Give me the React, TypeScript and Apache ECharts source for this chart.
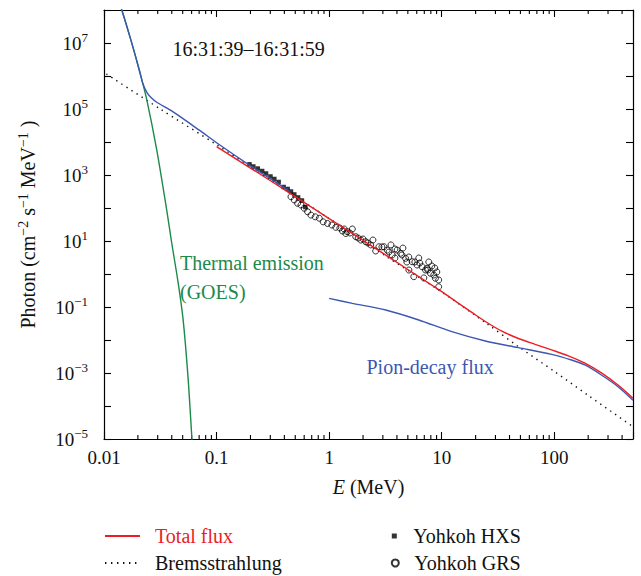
import React, { useEffect, useRef } from "react";
import * as echarts from "echarts";

const FONT = "Liberation Serif, DejaVu Serif, serif";

// Thermal emission (GOES)
const thermalE = [0.013, 0.0144, 0.0175, 0.0208, 0.024, 0.0294, 0.0361, 0.0397, 0.0455, 0.0503, 0.0557, 0.0604, 0.062];
const thermalF = [2.8e8, 1.0e8, 1.1e7, 1.3e6, 1.9e5, 5.8e3, 85, 10, 0.56, 0.045, 7.9e-4, 1.0e-5, 2.5e-6];

// Low-energy fit (thermal + bremsstrahlung), blue
const lowFitE = [0.013, 0.0144, 0.0175, 0.0208, 0.0221, 0.024, 0.0266, 0.0294, 0.0408, 0.0708, 0.1, 0.2, 0.45];
const lowFitF = [2.8e8, 1.0e8, 1.1e7, 1.35e6, 6.0e5, 3.2e5, 2.1e5, 1.6e5, 8.3e4, 2.24e4, 9.5e3, 1.9e3, 316];

// Bremsstrahlung (dotted)
const bremE = [0.0105, 0.0316, 0.1, 0.316, 1, 3.16, 10, 25.1, 48, 100, 200, 480];
const bremF = [1.15e6, 1.0e5, 8.3e3, 631, 47.9, 3.55, 0.285, 0.0316, 6.3e-3, 1.12e-3, 2.1e-4, 2.6e-5];

// Pion-decay flux
const pionE = [1, 1.61, 3.18, 6.25, 12.3, 24.4, 48, 94.6, 142, 187, 262, 368, 500];
const pionF = [0.183, 0.129, 0.081, 0.0404, 0.0179, 0.00933, 0.00585, 0.00368, 0.00248, 0.00175, 0.00087, 0.000385, 0.00015];

// Total flux
const totalE = [0.1, 0.316, 1, 3.16, 10, 14.1, 18.5, 24.4, 34.2, 48, 67.5, 94.6, 133, 187, 262, 368, 500];
const totalF = [7240, 603, 47.9, 3.8, 0.291, 0.129, 0.0684, 0.0364, 0.0185, 0.0111, 0.00738, 0.005, 0.00332, 0.002, 0.00101, 0.000432, 0.000173];

// Yohkoh HXS (filled squares)
const hxsE = [0.196, 0.212, 0.232, 0.254, 0.275, 0.301, 0.326, 0.356, 0.394, 0.428, 0.458, 0.49, 0.53, 0.573, 0.614];
const hxsF = [2110, 1810, 1570, 1320, 1110, 902, 757, 614, 433, 377, 316, 257, 209, 169, 107];

// Yohkoh GRS (open circles)
const grsE = [0.458, 0.49, 0.524, 0.562, 0.601, 0.643, 0.689, 0.752, 0.817, 0.885, 0.966, 1.057, 1.146, 1.245, 1.312, 1.36, 1.406, 1.452, 1.53, 1.607, 1.722, 1.81, 1.91, 2.0, 2.113, 2.21, 2.339, 2.449, 2.588, 2.767, 2.94, 3.069, 3.281, 3.4, 3.54, 3.631, 3.837, 3.84, 4.018, 4.315, 4.43, 4.519, 4.775, 4.898, 5.1, 5.105, 5.458, 5.649, 5.77, 6.039, 6.252, 6.38, 6.699, 6.934, 7.178, 7.413, 7.52, 7.674, 7.943, 8.16, 8.492, 8.67, 8.79, 9.04, 9.397, 9.397];
const grsF = [220, 175, 139, 123, 98, 77, 61, 54, 49, 38, 34, 30.5, 26, 24.8, 20.1, 23.1, 16.9, 19.1, 17.5, 23.1, 13.5, 12.3, 10.7, 11.5, 9.5, 8.7, 7.6, 10.7, 4.98, 6.7, 6.6, 6.7, 5.3, 4.64, 7.6, 3.77, 3.05, 5.73, 5.3, 4.24, 3.77, 6.1, 2.99, 2.31, 3.27, 1.32, 2.36, 0.83, 2.31, 1.87, 3.05, 2.15, 1.66, 0.76, 1.32, 1.49, 1.32, 2.31, 1.05, 1.75, 0.93, 1.52, 0.74, 1.15, 0.66, 0.41];

// Axes
const xMin = 0.01;
const xMax = 500;
const yMin = 1e-5;
const yMax = 1e8;
const xTickValues = [0.01, 0.1, 1, 10, 100];
const xTickLabels = ["0.01", "0.1", "1", "10", "100"];
const yLabelExponents = [7, 5, 3, 1, -1, -3, -5];

const RED = "#ee1c25";
const GREEN = "#1b8a4a";
const BLUE = "#3b57b2";

const lg = Math.log10;
const pairs = (E: number[], F: number[]) => E.map((e, i) => [lg(e), lg(F[i])]);
const supNum = (n: number) => (n < 0 ? "\u2212" + -n : String(n));

export default function App() {
  const ref = useRef<HTMLDivElement>(null);
  useEffect(() => {
    const chart = echarts.init(ref.current!, null, { renderer: "svg" });
    const X0 = lg(xMin), X1 = lg(xMax), Y0 = lg(yMin), Y1 = lg(yMax);
    const minorTicks: number[][] = [];
    for (let d = Math.floor(X0); d < X1; d++) {
      for (let k = 2; k <= 9; k++) {
        const v = lg(k) + d;
        if (v < X1) minorTicks.push([v, Y0]);
      }
    }
    const axisLine = { show: true, onZero: false, lineStyle: { color: "#000", width: 1.2 } };
    const baseX = {
      type: "value" as const,
      min: X0,
      max: X1,
      interval: 1,
      axisLine,
      splitLine: { show: false },
      axisTick: { show: true, inside: true, length: 7, lineStyle: { color: "#000", width: 1.1 } },
    };
    const baseY = {
      type: "value" as const,
      min: Y0,
      max: Y1,
      interval: 1,
      axisLine,
      splitLine: { show: false },
      axisTick: { show: true, inside: true, length: 7, lineStyle: { color: "#000", width: 1.1 } },
    };
    const hiddenSymbol = { color: "rgba(0,0,0,0)", borderColor: "rgba(0,0,0,0)", borderWidth: 0 };
    const option: any = {
      animation: false,
      textStyle: { fontFamily: FONT },
      grid: { left: 104, right: 8, top: 10, bottom: 137, containLabel: false },
      xAxis: [
        {
          ...baseX,
          position: "bottom",
          name: "{i|E} (MeV)",
          nameLocation: "middle",
          nameGap: 36,
          nameTextStyle: {
            fontFamily: FONT, fontSize: 20, color: "#111", lineHeight: 24,
            rich: { i: { fontFamily: FONT, fontSize: 20, fontStyle: "italic", color: "#111", lineHeight: 24 } },
          },
          axisLabel: {
            margin: 8,
            fontFamily: FONT,
            fontSize: 19,
            color: "#111",
            lineHeight: 20,
            formatter: (v: number) => {
              const i = xTickValues.findIndex((t) => Math.abs(lg(t) - v) < 1e-6);
              return i >= 0 ? xTickLabels[i] : "";
            },
          },
        },
        { ...baseX, position: "top", axisLabel: { show: false } },
      ],
      yAxis: [
        {
          ...baseY,
          position: "left",
          name: "Photon (cm{s|\u22122} s{s|\u22121} MeV{s|\u22121} )",
          nameLocation: "middle",
          nameGap: 64,
          nameTextStyle: {
            fontFamily: FONT, fontSize: 20, color: "#111", lineHeight: 24,
            rich: { s: { fontFamily: FONT, fontSize: 14, verticalAlign: "top", lineHeight: 14, color: "#111" } },
          },
          axisLabel: {
            margin: 16,
            color: "#111",
            fontFamily: FONT,
            formatter: (v: number) => {
              const r = Math.round(v);
              if (Math.abs(v - r) > 1e-6 || !yLabelExponents.includes(r)) return "";
              return `{b|10}{s|${supNum(r)}}`;
            },
            rich: {
              b: { fontFamily: FONT, fontSize: 19, lineHeight: 24, color: "#111" },
              s: { fontFamily: FONT, fontSize: 13, lineHeight: 13, verticalAlign: "top", color: "#111" },
            },
          },
        },
        { ...baseY, position: "right", axisLabel: { show: false } },
      ],
      legend: [
        {
          orient: "vertical",
          left: 104,
          top: 526,
          padding: 0,
          itemWidth: 35,
          itemHeight: 14,
          itemGap: 7,
          selectedMode: false,
          itemStyle: hiddenSymbol,
          textStyle: { fontFamily: FONT, fontSize: 20, color: "#111", lineHeight: 20, padding: [0, 0, 0, 10] },
          data: [
            { name: "Total flux", textStyle: { color: RED } },
            { name: "Bremsstrahlung" },
          ],
        },
        {
          orient: "vertical",
          left: 391.8,
          top: 526,
          padding: 0,
          itemWidth: 5,
          itemHeight: 5,
          selectedMode: false,
          textStyle: { fontFamily: FONT, fontSize: 20, color: "#111", lineHeight: 20, padding: [0, 0, 0, 11.5] },
          data: ["Yohkoh HXS"],
        },
        {
          orient: "vertical",
          left: 390.8,
          top: 553,
          padding: 0,
          itemWidth: 7,
          itemHeight: 7,
          selectedMode: false,
          textStyle: { fontFamily: FONT, fontSize: 20, color: "#111", lineHeight: 20, padding: [0, 0, 0, 10.5] },
          data: ["Yohkoh GRS"],
        },
      ],
      graphic: [
        {
          type: "text",
          style: { text: "16:31:39\u201316:31:59", x: 172.5, y: 49, fontFamily: FONT, fontSize: 20, fill: "#111", verticalAlign: "middle" },
        },
        {
          type: "text",
          style: { text: "Thermal emission\n(GOES)", x: 180, y: 248.5, fontFamily: FONT, fontSize: 20, lineHeight: 29, fill: GREEN, verticalAlign: "top" },
        },
        {
          type: "text",
          style: { text: "Pion-decay flux", x: 366.5, y: 367, fontFamily: FONT, fontSize: 20, fill: BLUE, verticalAlign: "middle" },
        },
      ],
      series: [
        {
          type: "custom",
          name: "minor ticks",
          silent: true,
          xAxisIndex: 0,
          yAxisIndex: 0,
          data: minorTicks,
          renderItem: (params: any, api: any) => {
            const x = api.value(0);
            const b = api.coord([x, Y0]);
            const t = api.coord([x, Y1]);
            return {
              type: "group",
              children: [
                { type: "line", shape: { x1: b[0], y1: b[1], x2: b[0], y2: b[1] - 4 }, style: { stroke: "#000", lineWidth: 1.1 } },
                { type: "line", shape: { x1: t[0], y1: t[1], x2: t[0], y2: t[1] + 4 }, style: { stroke: "#000", lineWidth: 1.1 } },
              ],
            };
          },
        },
        {
          type: "line",
          name: "Bremsstrahlung",
          data: pairs(bremE, bremF),
          symbol: "none",
          smooth: 0.3,
          lineStyle: { color: "#111", width: 1.4, type: [1.4, 4.6] },
          itemStyle: { color: "#111" },
        },
        {
          type: "line",
          name: "Thermal emission (GOES)",
          data: pairs(thermalE, thermalF),
          symbol: "none",
          smooth: 0.3,
          lineStyle: { color: GREEN, width: 1.4 },
        },
        {
          type: "line",
          name: "Low-energy fit",
          data: pairs(lowFitE, lowFitF),
          symbol: "none",
          smooth: 0.3,
          lineStyle: { color: BLUE, width: 1.4 },
        },
        {
          type: "line",
          name: "Pion-decay flux",
          data: pairs(pionE, pionF),
          symbol: "none",
          smooth: 0.3,
          lineStyle: { color: BLUE, width: 1.4 },
        },
        {
          type: "line",
          name: "Total flux",
          data: pairs(totalE, totalF),
          symbol: "none",
          smooth: 0.3,
          lineStyle: { color: RED, width: 1.4 },
          itemStyle: { color: RED },
        },
        {
          type: "scatter",
          name: "Yohkoh GRS",
          data: pairs(grsE, grsF),
          symbol: "circle",
          symbolSize: 6,
          itemStyle: { color: "rgba(255,255,255,0)", borderColor: "#000", borderWidth: 1 },
        },
        {
          type: "scatter",
          name: "Yohkoh HXS",
          data: pairs(hxsE, hxsF),
          symbol: "rect",
          symbolSize: 4.5,
          itemStyle: { color: "#000" },
        },
      ],
    };
    chart.setOption(option);
    return () => chart.dispose();
  }, []);
  return <div ref={ref} style={{ position: "absolute", left: 0, top: 0, width: 641, height: 576 }} />;
}
